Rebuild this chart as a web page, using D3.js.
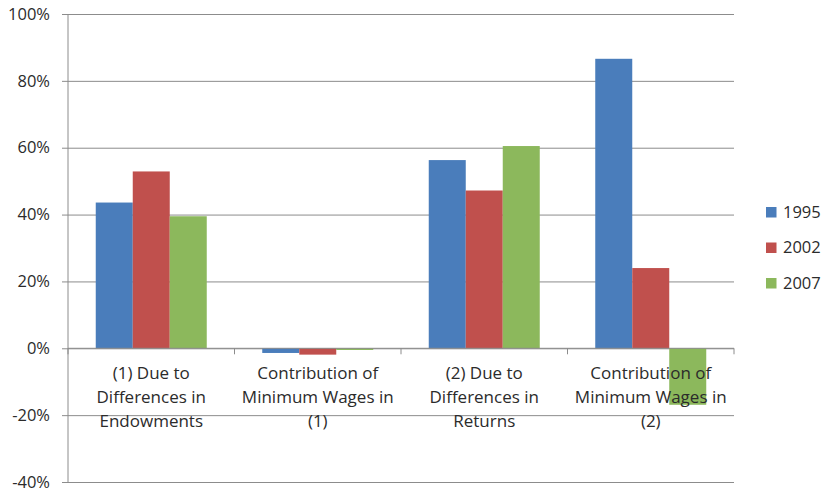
<!DOCTYPE html>
<html>
<head>
<meta charset="utf-8">
<script src="https://cdn.jsdelivr.net/npm/d3@7"></script>
<style>
  body { margin: 0; background: #fff; }
  text { font-family: "Open Sans", sans-serif; fill: #2b2b2b; }
</style>
</head>
<body>
<svg width="826" height="491"></svg>
<script>
const categories = [
  "(1) Due to\nDifferences in\nEndowments",
  "Contribution of\nMinimum Wages in\n(1)",
  "(2) Due to\nDifferences in\nReturns",
  "Contribution of\nMinimum Wages in\n(2)"
];
const seriesNames = ["1995", "2002", "2007"];
const values1995 = [43.6, -1.4, 56.3, 86.6];
const values2002 = [52.9, -1.9, 47.2, 24.0];
const values2007 = [39.5, -0.5, 60.5, -16.9];
const yTicks = [-40, -20, 0, 20, 40, 60, 80, 100];
const colors = ["#4a7dbb", "#c0504d", "#8cb85c"];

const seriesValues = [values1995, values2002, values2007];
const data = categories.map((c, i) => ({
  cat: c,
  vals: seriesNames.map((s, j) => ({ key: s, value: seriesValues[j][i] }))
}));

const svg = d3.select("svg");
const margin = { left: 68, right: 92, top: 14, bottom: 9 };
const width = +svg.attr("width");
const height = +svg.attr("height");
const innerWidth = width - margin.left - margin.right;
const innerHeight = height - margin.top - margin.bottom;
const g = svg.append("g").attr("transform", `translate(${margin.left},${margin.top})`);

const x0 = d3.scaleBand().domain(categories).range([0, innerWidth]).padding(0);
const x1 = d3.scaleBand().domain(seriesNames).range([0, x0.bandwidth()])
  .paddingInner(0).paddingOuter(0.75);
const y = d3.scaleLinear().domain([-40, 100]).range([innerHeight, 0]);
const color = d3.scaleOrdinal().domain(seriesNames).range(colors);

// gridlines + y labels
const yAxis = d3.axisLeft(y).tickValues(yTicks).tickSize(-innerWidth)
  .tickFormat(d => d + "%").tickPadding(18);
const yAxisG = g.append("g").call(yAxis);
yAxisG.select(".domain").remove();
yAxisG.selectAll(".tick line").attr("stroke", "#8c8c8c").attr("x1", -6);
yAxisG.selectAll(".tick text").style("font-size", "16.5px").attr("fill", "#2b2b2b");

// vertical axis line
g.append("line")
  .attr("x1", 0).attr("x2", 0)
  .attr("y1", 0).attr("y2", innerHeight)
  .attr("stroke", "#8c8c8c");

// bars
const groups = g.selectAll("g.group")
  .data(data)
  .enter().append("g")
  .attr("class", "group")
  .attr("transform", d => `translate(${x0(d.cat)},0)`);

groups.selectAll("rect")
  .data(d => d.vals)
  .enter().append("rect")
  .attr("x", d => x1(d.key))
  .attr("width", x1.bandwidth())
  .attr("y", d => y(Math.max(0, d.value)))
  .attr("height", d => Math.abs(y(d.value) - y(0)))
  .attr("fill", d => color(d.key));

// zero axis with category boundary ticks
const boundaries = categories.map(c => x0(c)).concat([innerWidth]);
g.append("line")
  .attr("x1", 0).attr("x2", innerWidth)
  .attr("y1", y(0)).attr("y2", y(0))
  .attr("stroke", "#8c8c8c");
g.selectAll("line.xtick")
  .data(boundaries)
  .enter().append("line")
  .attr("class", "xtick")
  .attr("x1", d => d).attr("x2", d => d)
  .attr("y1", y(0)).attr("y2", y(0) + 6)
  .attr("stroke", "#8c8c8c");

// category labels, drawn on top of bars
const labels = g.selectAll("text.cat")
  .data(categories)
  .enter().append("text")
  .attr("class", "cat")
  .attr("text-anchor", "middle")
  .style("font-size", "17px")
  .attr("x", d => x0(d) + x0.bandwidth() / 2)
  .attr("y", y(0) + 31);
labels.selectAll("tspan")
  .data(d => d.split("\n"))
  .enter().append("tspan")
  .attr("x", function() { return d3.select(this.parentNode).attr("x"); })
  .attr("dy", (d, i) => i === 0 ? 0 : 24)
  .text(d => d);

// legend
const legend = svg.append("g").attr("transform", "translate(766,212)");
const items = legend.selectAll("g")
  .data(seriesNames)
  .enter().append("g")
  .attr("transform", (d, i) => `translate(0,${i * 35.5})`);
items.append("rect")
  .attr("x", 0).attr("y", -5)
  .attr("width", 10.5).attr("height", 10.5)
  .attr("fill", d => color(d));
items.append("text")
  .attr("x", 17).attr("y", 0)
  .attr("dy", "0.36em")
  .style("font-size", "16.5px")
  .text(d => d);
</script>
</body>
</html>
